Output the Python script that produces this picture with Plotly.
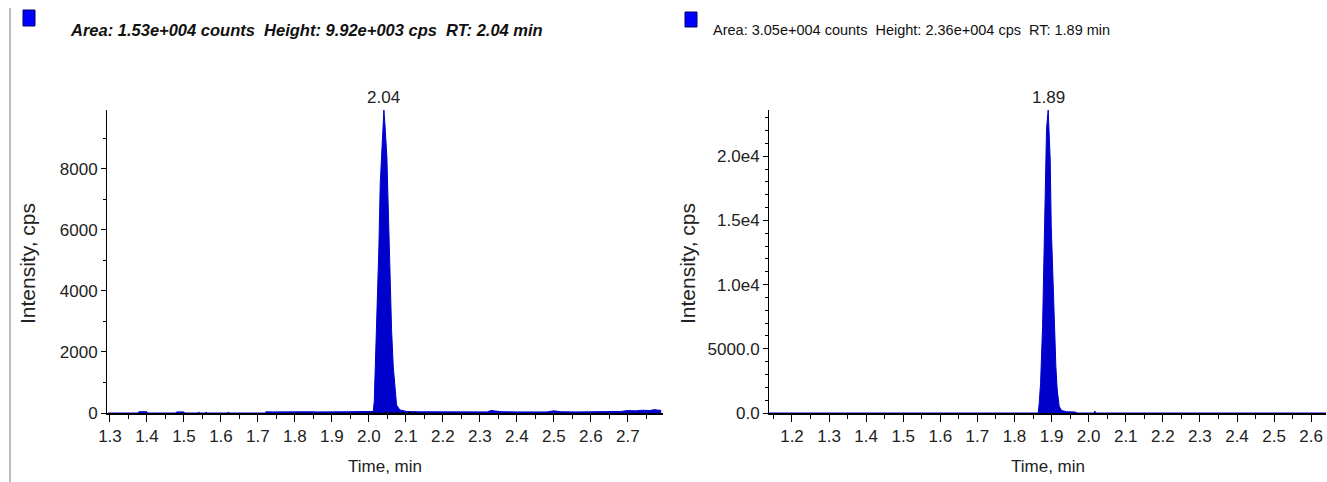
import plotly.graph_objects as go

# ---------------- data ----------------
left_time = [1.295, 1.376, 1.378, 1.400, 1.402, 1.478, 1.480, 1.500, 1.502, 1.538, 1.540, 1.542,
             1.558, 1.560, 1.562, 1.618, 1.620, 1.622, 1.718, 1.722, 1.740, 1.760, 1.780, 1.800,
             1.820, 1.840, 1.860, 1.880, 1.900, 1.920, 1.940, 1.960, 1.980, 2.000, 2.0117,
             2.0144, 2.0180, 2.0207, 2.0270, 2.0306, 2.0360, 2.0405, 2.0432, 2.0486, 2.0532,
             2.0568, 2.0613, 2.0658, 2.0703, 2.0748, 2.0838, 2.1018, 2.130, 2.170, 2.210,
             2.250, 2.280, 2.320, 2.330, 2.360, 2.400, 2.440, 2.480, 2.500, 2.520, 2.560,
             2.600, 2.640, 2.660, 2.680, 2.700, 2.720, 2.740, 2.760, 2.770, 2.780, 2.790]
left_int = [0, 0, 40, 40, 0, 0, 35, 35, 0, 0, 35, 0,
            0, 35, 0, 0, 35, 0, 0, 40, 35, 40, 30, 40,
            35, 40, 35, 30, 40, 35, 40, 45, 40, 45, 50,
            370, 1730, 3040, 5440, 7500, 8920, 9920, 9470, 8380, 6300,
            4450, 2710, 1510, 750, 260, 100, 50, 40, 35, 40,
            30, 40, 35, 80, 40, 35, 40, 35, 70, 40, 35,
            40, 45, 60, 50, 80, 70, 90, 80, 110, 90, 85]

right_time = [1.138, 1.862, 1.8640, 1.8667, 1.8703, 1.8757, 1.8801, 1.8828, 1.8864, 1.8909,
              1.8936, 1.8963, 1.8990, 1.9044, 1.9071, 1.9116, 1.9152, 1.9205, 1.9268, 1.9403,
              1.9628, 1.970, 2.0150, 2.0167, 2.0185, 2.640]
right_int = [0, 0, 0, 780, 2310, 6720, 13720, 19170, 22150, 23600,
             22020, 19690, 14630, 9830, 6720, 3600, 1790, 520, 200, 100,
             80, 0, 0, 150, 0, 0]

left_integ_time = [2.008, 2.132]
left_integ_int = [0, 0]

left_xticks = [1.3, 1.4, 1.5, 1.6, 1.7, 1.8, 1.9, 2.0, 2.1, 2.2, 2.3, 2.4, 2.5, 2.6, 2.7]
right_xticks = [1.2, 1.3, 1.4, 1.5, 1.6, 1.7, 1.8, 1.9, 2.0, 2.1, 2.2, 2.3, 2.4, 2.5, 2.6]
left_yticks = [0, 2000, 4000, 6000, 8000]
left_yticktext = ["0", "2000", "4000", "6000", "8000"]
right_yticks = [0, 5000, 10000, 15000, 20000]
right_yticktext = ["0.0", "5000.0", "1.0e4", "1.5e4", "2.0e4"]

left_title = "Area: 1.53e+004 counts  Height: 9.92e+003 cps  RT: 2.04 min"
right_title = "Area: 3.05e+004 counts  Height: 2.36e+004 cps  RT: 1.89 min"
left_peak = (2.0405, 9920, "2.04")
right_peak = (1.8909, 23600, "1.89")
x_title = "Time, min"
y_title = "Intensity, cps"

# ---------------- figure ----------------
W, H = 1327, 482
SANS = "Liberation Sans, Arial, sans-serif"
BLUE = "#0000CC"
TXT = "#222222"

fig = go.Figure()
fig.add_trace(go.Scatter(x=left_time, y=left_int, mode="lines", fill="tozeroy",
                         line=dict(color=BLUE, width=1), fillcolor=BLUE,
                         xaxis="x", yaxis="y", showlegend=False, hoverinfo="skip"))
fig.add_trace(go.Scatter(x=left_integ_time, y=left_integ_int, mode="lines",
                         line=dict(color="black", width=2, dash="dot"),
                         xaxis="x", yaxis="y", showlegend=False, hoverinfo="skip"))
fig.add_trace(go.Scatter(x=right_time, y=right_int, mode="lines", fill="tozeroy",
                         line=dict(color=BLUE, width=1), fillcolor=BLUE,
                         xaxis="x2", yaxis="y2", showlegend=False, hoverinfo="skip"))

def px_x(p):
    return p / W

def px_y(p):
    return 1 - p / H

ybot, ytop = px_y(413), px_y(110)

xcommon = dict(showgrid=False, zeroline=False, showline=True, linecolor="black", linewidth=2,
               ticks="outside", ticklen=7, tickwidth=1, tickcolor="black", automargin=False,
               tickfont=dict(family=SANS, size=17, color=TXT), tickformat=".1f")
ycommon = dict(showgrid=False, zeroline=False, showline=True, linecolor="black", linewidth=1,
               ticks="outside", ticklen=5, tickwidth=1, tickcolor="black", automargin=False,
               tickfont=dict(family=SANS, size=17, color=TXT),
               minor=dict(dtick=1000, tick0=0, ticks="outside", ticklen=3, tickcolor="black"))

fig.update_layout(
    width=W, height=H, margin=dict(l=0, r=0, t=0, b=0, autoexpand=False),
    paper_bgcolor="white", plot_bgcolor="white",
    xaxis=dict(xcommon, domain=[px_x(107), px_x(663)], range=[1.292, 2.795], anchor="y",
               tickvals=left_xticks,
               minor=dict(dtick=0.05, tick0=1.25, ticks="outside", ticklen=4, tickcolor="black")),
    yaxis=dict(ycommon, domain=[ybot, ytop], range=[0, 9920], anchor="x",
               tickvals=left_yticks, ticktext=left_yticktext),
    xaxis2=dict(xcommon, domain=[px_x(769), px_x(1326)], range=[1.138, 2.64], anchor="y2",
                tickvals=right_xticks,
                minor=dict(dtick=0.05, tick0=1.15, ticks="outside", ticklen=4, tickcolor="black")),
    yaxis2=dict(ycommon, domain=[ybot, ytop], range=[0, 23600], anchor="x2",
                tickvals=right_yticks, ticktext=right_yticktext),
)

# titles
fig.add_annotation(x=px_x(68), y=px_y(30), xref="paper", yref="paper", xanchor="left", yanchor="middle",
                   text="<b><i>" + left_title + "</i></b>", showarrow=False,
                   font=dict(family=SANS, size=16.5, color="#111"))
fig.add_annotation(x=px_x(711), y=px_y(30), xref="paper", yref="paper", xanchor="left", yanchor="middle",
                   text=right_title, showarrow=False,
                   font=dict(family=SANS, size=14.5, color="#111"))
# legend squares
fig.add_shape(type="rect", xref="paper", yref="paper", x0=px_x(23), x1=px_x(35), y0=px_y(26), y1=px_y(10),
              fillcolor="#0000FF", line=dict(color="#000066", width=1))
fig.add_shape(type="rect", xref="paper", yref="paper", x0=px_x(685), x1=px_x(697), y0=px_y(27), y1=px_y(12),
              fillcolor="#0000FF", line=dict(color="#000066", width=1))
# left border line
fig.add_shape(type="line", xref="paper", yref="paper", x0=px_x(10), x1=px_x(10), y0=0, y1=px_y(8),
              line=dict(color="#BBBBBB", width=2))

# axis titles
for cx in (27, 687):
    fig.add_annotation(x=px_x(cx), y=px_y(264), xref="paper", yref="paper", text=y_title, textangle=-90,
                       showarrow=False, xanchor="center", yanchor="middle",
                       font=dict(family=SANS, size=21, color=TXT))
for cx in (385, 1048):
    fig.add_annotation(x=px_x(cx), y=px_y(466), xref="paper", yref="paper", text=x_title,
                       showarrow=False, xanchor="center", yanchor="middle",
                       font=dict(family=SANS, size=17, color=TXT))

# peak labels
fig.add_annotation(x=left_peak[0], y=left_peak[1], xref="x", yref="y", text=left_peak[2], showarrow=False,
                   yanchor="bottom", yshift=1, font=dict(family=SANS, size=17, color=TXT))
fig.add_annotation(x=right_peak[0], y=right_peak[1], xref="x2", yref="y2", text=right_peak[2], showarrow=False,
                   yanchor="bottom", yshift=1, font=dict(family=SANS, size=17, color=TXT))

fig.write_html("out.html", config={"displayModeBar": False},
               post_script="document.body.style.margin='0px';")
